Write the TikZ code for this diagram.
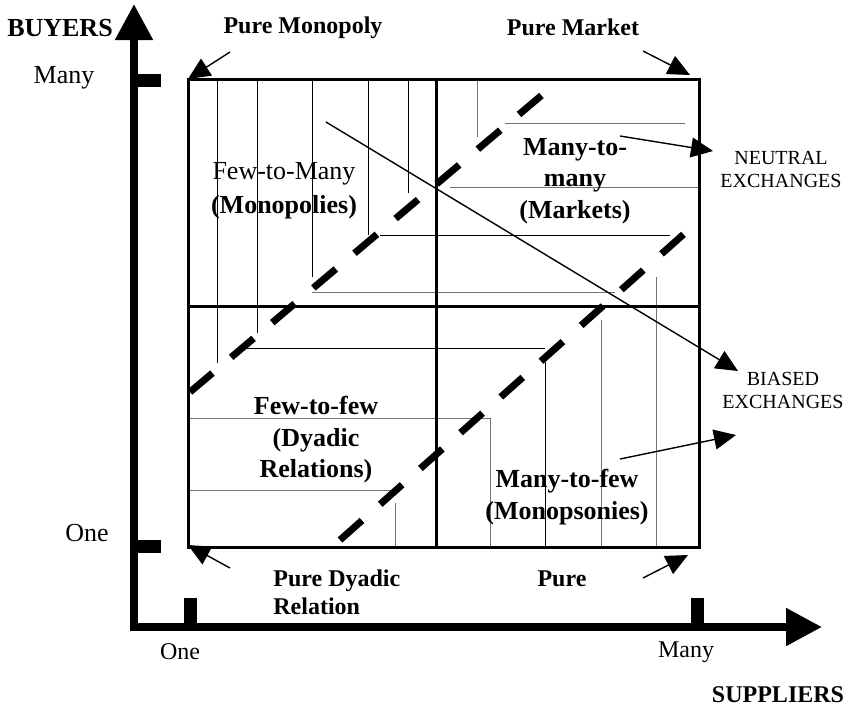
\documentclass[tikz,border=0pt]{standalone}
\usepackage{fontspec}
\setmainfont{Liberation Serif}
\usepackage{tikz}
\usetikzlibrary{arrows.meta, positioning}

\begin{document}
\begin{tikzpicture}[x=0.5pt, y=-0.5pt]
\useasboundingbox (0,0) rectangle (849,709);
	\tikzset{axis/.style={line width=4pt, line join=miter, {Triangle[length=18pt,width=18pt]}-{Triangle[length=18pt,width=18pt]}}}
	\tikzset{box/.style={line width=1.5pt}}
	\tikzset{cut/.style={line width=3.5pt, dash pattern=on 14.7pt off 12.2pt}}
	\tikzset{hatch/.style={line width=0.5pt, black}}
	\tikzset{hatchg/.style={line width=0.5pt, black!55}}
	\tikzset{pointer/.style={-{Triangle[length=11pt,width=10pt]}, line width=0.7pt}}
	\tikzset{lab/.style={inner sep=0pt, font=\fontsize{13}{15}\selectfont}}
	\tikzset{pure/.style={inner sep=0pt, align=left, font=\fontsize{12}{14}\selectfont\bfseries}}
	\tikzset{quad/.style={inner sep=0pt, align=center, font=\fontsize{13}{15.75}\selectfont\bfseries}}
	\tikzset{side/.style={inner sep=0pt, align=center, font=\fontsize{10}{11.5}\selectfont}}

	\newcommand{\vhatch}[4][hatch]{\draw[#1] (#2,#3) -- (#2,#4);}
	\newcommand{\hhatch}[4][hatch]{\draw[#1] (#3,#2) -- (#4,#2);}

% axes
\draw[axis] (134,4) -- (134,627) -- (822,627);
\fill (138,74) rectangle (161,87);
\fill (138,540) rectangle (161,553);
\fill (184,598) rectangle (197,627);
\fill (691,598) rectangle (704,627);

% hatching
\vhatch{217}{79}{363}
\vhatch{257}{79}{333}
\vhatch{312}{79}{277}
\vhatch{368}{79}{235}
\vhatch{408}{79}{193}
\vhatch[hatchg]{477}{79}{137}
\vhatch[hatchg]{490}{418}{547}
\vhatch{545}{362}{547}
\vhatch[hatchg]{601}{320}{547}
\vhatch[hatchg]{656}{277}{547}
\vhatch[hatchg]{395}{503}{547}
\hhatch[hatchg]{123}{505}{685}
\hhatch[hatchg]{187}{450}{699}
\hhatch{235}{380}{670}
\hhatch[hatchg]{292}{312}{615}
\hhatch{348}{243}{545}
\hhatch[hatchg]{418}{188}{490}
\hhatch[hatchg]{490}{188}{393}

% the four cells
\draw[box] (188,79) rectangle (699,547);
\draw[box] (436,79) -- (436,547);
\draw[box] (188,306) -- (699,306);

\draw[cut] (190,392) -- (542,95);
\draw[cut] (340,540) -- (685,233);

% texts
\node[lab, font=\fontsize{13}{15}\selectfont\bfseries] (buyers) at (60,28) {BUYERS};
\node[lab] (ymany) at (64,78) {Many};
\node[lab] (yone) at (87,533) {One};
\node[lab, font=\fontsize{12}{14}\selectfont] (xone) at (180,652) {One};
\node[lab, font=\fontsize{12}{14}\selectfont] (xmany) at (686,652) {Many};
\node[pure] (suppliers) at (778,695) {SUPPLIERS};

\node[pure] (monopoly) at (303,28) {Pure Monopoly};
\node[pure] (market) at (573,27) {Pure Market};
\node[pure, anchor=west] (dyadic) at (273,592) {Pure Dyadic\\Relation};
\node[pure] (monopsony) at (562,579) {Pure};

\node[quad, font=\fontsize{13}{17}\selectfont] (fewmany) at (284,191) {Few-to-Many\\\textbf{(Monopolies)}};
\node[quad] (manymany) at (575,181) {Many-to-\\many\\(Markets)};
\node[quad] (fewfew) at (316,440) {Few-to-few\\(Dyadic\\Relations)};
\node[quad] (manyfew) at (567,497) {Many-to-few\\(Monopsonies)};

\node[side] (neutral) at (781,169) {NEUTRAL\\EXCHANGES};
\node[side] (biased) at (783,390) {BIASED\\EXCHANGES};

% pointers
\coordinate (monotail) at (230,52);
\coordinate (monotip) at (188,79);
\coordinate (markettail) at (643,51);
\coordinate (markettip) at (690,75);
\coordinate (dyadtail) at (230,568);
\coordinate (dyadtip) at (188,545);
\coordinate (puretail) at (643,578);
\coordinate (puretip) at (688,555);
\coordinate (neutraltail) at (620,136);
\coordinate (neutraltip) at (713,151);
\coordinate (biasedtail) at (326,122);
\coordinate (biasedtip) at (738,371);
\coordinate (biasedtailB) at (620,459);
\coordinate (biasedtipB) at (736,435);

\draw[pointer] (monotail) -- (monotip);
\draw[pointer] (markettail) -- (markettip);
\draw[pointer] (dyadtail) -- (dyadtip);
\draw[pointer] (puretail) -- (puretip);
\draw[pointer] (neutraltail) -- (neutraltip);
\draw[pointer] (biasedtail) -- (biasedtip);
\draw[pointer] (biasedtailB) -- (biasedtipB);
\end{tikzpicture}
\end{document}
